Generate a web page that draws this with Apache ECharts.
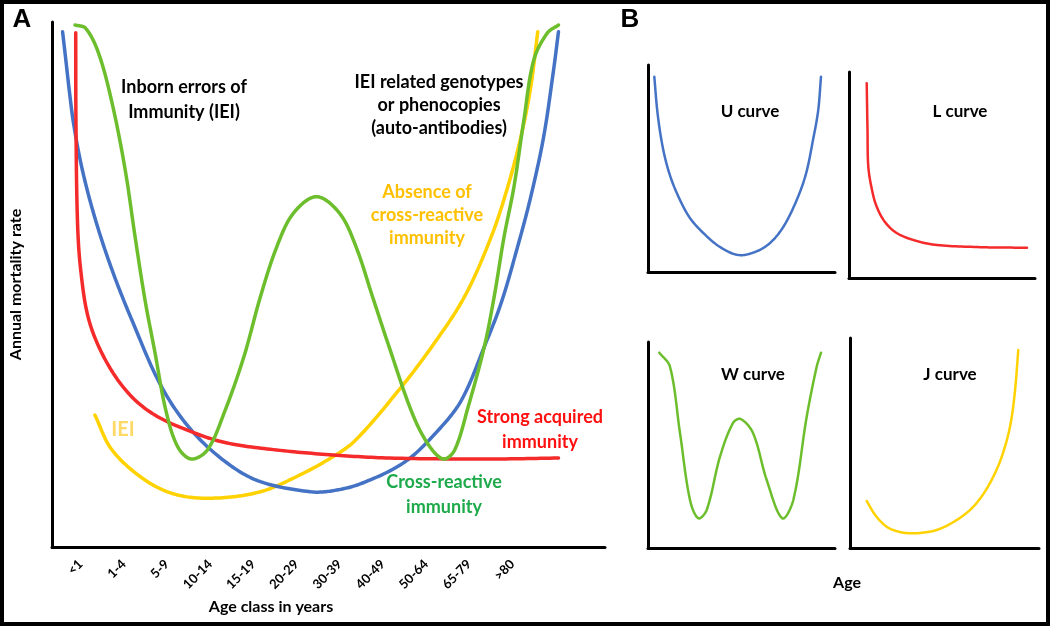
<!DOCTYPE html>
<html>
<head>
<meta charset="utf-8">
<script src="https://cdn.jsdelivr.net/npm/echarts@6/dist/echarts.min.js"></script>
<style>html,body{margin:0;padding:0;background:#fff;}#c{width:1050px;height:626px;}</style>
</head>
<body>
<div id="c"></div>
<script>
// ---- Data (schematic values, 0-100 units) ----
const ageClasses = ['<1','1-4','5-9','10-14','15-19','20-29','30-39','40-49','50-64','65-79','>80'];

// Panel A curves: [x position along age, annual mortality rate]
const uCurveA = [[1.91,98.16],[2.50,92.77],[3.22,86.10],[3.94,80.39],[5.49,71.81],[7.87,62.29],[10.86,52.77],[14.44,43.24],[19.80,30.54],[25.17,22.29],[31.66,16.00],[37.69,12.44],[46.64,10.53],[50.81,10.72],[56.17,12.19],[63.86,16.25],[69.89,22.29],[74.06,28.00],[78.18,38.16],[81.22,46.48],[84.20,57.21],[86.58,66.73],[88.91,78.16],[90.70,90.87],[91.59,98.16]];
const lCurveA = [[4.29,97.97],[4.33,81.34],[4.60,62.29],[5.19,52.77],[6.67,43.24],[9.66,35.62],[13.83,29.28],[18.60,25.14],[25.76,21.72],[31.66,19.81],[40.61,18.48],[50.81,17.53],[60.95,16.95],[78.84,16.76],[91.59,16.95]];
const wCurveA = [[4.17,99.43],[6.08,98.81],[8.41,94.10],[10.86,84.58],[13.24,71.81],[15.03,59.05],[16.82,47.05],[18.60,37.15],[20.57,26.10],[22.72,19.11],[25.17,16.76],[28.09,18.48],[31.13,25.53],[34.70,36.25],[37.69,47.68],[40.66,57.21],[43.65,63.57],[47.82,66.73],[52.00,63.57],[54.97,57.21],[57.96,47.68],[60.95,38.16],[65.12,25.53],[68.10,19.43],[70.79,16.76],[72.81,18.48],[75.26,26.72],[78.18,38.16],[79.96,47.68],[81.75,59.10],[83.54,68.63],[85.33,81.34],[87.12,92.76],[89.57,97.90],[91.59,99.43]];
const jCurveA = [[7.75,25.15],[10.86,18.48],[16.82,12.76],[22.72,9.91],[29.87,9.33],[37.69,10.53],[44.19,13.39],[50.81,17.20],[54.92,20.38],[62.74,29.91],[68.69,38.16],[74.60,47.68],[79.43,59.10],[82.42,68.63],[84.80,78.16],[86.58,87.68],[87.84,98.16]];

// Panel B mini curves
const uCurveB = [[3.37,94.35],[5.2,76.0],[8.18,58.94],[12.0,46.0],[17.11,34.78],[22.5,26.0],[29.57,18.84],[38.5,12.08],[48.29,8.21],[57.2,9.66],[65.24,14.01],[72.5,22.0],[79.52,34.78],[84.5,47.5],[88.24,63.77],[91.0,78.0],[92.51,94.35]];
const lCurveB = [[9.52,94.51],[9.95,71.84],[10.38,54.03],[12.37,42.72],[14.89,34.61],[19.35,27.18],[25.65,21.84],[35.48,18.20],[47.15,16.02],[74.03,14.90],[95.70,14.71]];
const wCurveB = [[6.04,94.81],[11.76,88.01],[17.11,55.83],[22.46,23.30],[26.90,14.42],[31.39,18.45],[38.50,44.32],[45.45,60.68],[49.57,62.62],[56.15,55.83],[63.48,33.01],[71.82,14.42],[77.70,23.30],[84.87,63.74],[90.21,88.01],[92.51,94.81]];
const jCurveB = [[8.84,22.38],[13.5,15.5],[19.42,10.14],[25.5,7.8],[31.75,7.00],[38.5,7.3],[45.87,8.57],[55.0,12.5],[63.49,18.10],[70.0,25.0],[75.82,33.95],[80.5,44.0],[84.66,57.76],[87.2,74.0],[89.05,94.29]];

// ---- Styles ----
const BLUE = '#4472C4', RED = '#F52A2A', GREEN = '#6DBE2D', YELLOW = '#FFD200';
const FONT = 'Lato, "Open Sans", sans-serif';

function hiddenAxis(i){ return {type:'value', gridIndex:i, min:0, max:100, show:false}; }
function framedX(i){ return {type:'value', gridIndex:i, min:0, max:100,
  axisLine:{show:true, onZero:false, lineStyle:{color:'#000', width:3}}, axisTick:{show:false}, axisLabel:{show:false}, splitLine:{show:false}}; }
function framedY(i, extra){ return Object.assign({type:'value', gridIndex:i, min:0, max:100,
  axisLine:{show:true, onZero:false, lineStyle:{color:'#000', width:3}}, axisTick:{show:false}, axisLabel:{show:false}, splitLine:{show:false}}, extra||{}); }

// Catmull-Rom style curve through the data points (converted with the axes' own scales via api.coord)
function smoothPts(p, s){
  const out = [], n = p.length, STEPS = 16;
  const ctrl = p.map((pt, i) => {
    const a = p[Math.max(i-1,0)], b = p[Math.min(i+1,n-1)];
    const vx = b[0]-a[0], vy = b[1]-a[1];
    const d0 = Math.hypot(pt[0]-a[0], pt[1]-a[1]), d1 = Math.hypot(b[0]-pt[0], b[1]-pt[1]);
    const t = d0 + d1 || 1;
    return {inX: pt[0]-vx*s*d0/t, inY: pt[1]-vy*s*d0/t, outX: pt[0]+vx*s*d1/t, outY: pt[1]+vy*s*d1/t};
  });
  out.push(p[0]);
  for (let i=0;i<n-1;i++){
    const P0=p[i], P3=p[i+1], c1=[ctrl[i].outX, ctrl[i].outY], c2=[ctrl[i+1].inX, ctrl[i+1].inY];
    for (let k=1;k<=STEPS;k++){
      const t=k/STEPS, u=1-t;
      out.push([u*u*u*P0[0]+3*u*u*t*c1[0]+3*u*t*t*c2[0]+t*t*t*P3[0],
                u*u*u*P0[1]+3*u*u*t*c1[1]+3*u*t*t*c2[1]+t*t*t*P3[1]]);
    }
  }
  return out;
}
function curve(data, color, gi, w){
  return {type:'custom', xAxisIndex:gi, yAxisIndex:gi, data:data, silent:true, clip:false,
    renderItem:function(params, api){
      if (params.dataIndex !== 0) return null;
      const pts = data.map(d => api.coord(d));
      return {type:'polyline', shape:{points:smoothPts(pts, 0.34)},
        style:{stroke:color, lineWidth:w, fill:null, lineJoin:'round', lineCap:'round'}};
    }};
}
function txt(x, y, text, color, size, lh){
  return {type:'text', x:x, y:y, silent:true, style:{text:text, fill:color, font:'bold '+size+'px '+FONT,
    align:'center', verticalAlign:'middle', textAlign:'center', textVerticalAlign:'middle', lineHeight:lh||size+6}};
}

const chart = echarts.init(document.getElementById('c'), null, {renderer:'canvas'});
chart.setOption({
  animation:false,
  backgroundColor:'#fff',
  grid:[
    {left:46, top:22, width:559, height:525},     // A main
    {left:59, top:546, width:475, height:1},      // A age labels
    {left:648, top:65, width:187, height:207},    // U
    {left:849, top:72, width:186, height:206},    // L
    {left:648, top:342, width:187, height:206},   // W
    {left:850, top:338, width:189, height:210}    // J
  ],
  xAxis:[
    framedX(0),
    {type:'category', gridIndex:1, data:ageClasses, boundaryGap:true,
      axisLine:{show:false}, axisTick:{show:false}, splitLine:{show:false},
      axisLabel:{interval:0, rotate:45, margin:15, color:'#000', fontWeight:'bold', fontSize:13, fontFamily:FONT}},
    framedX(2), framedX(3), framedX(4), framedX(5)
  ],
  yAxis:[
    framedY(0, {name:'Annual mortality rate', nameLocation:'middle', nameGap:28,
      nameTextStyle:{color:'#000', fontWeight:'bold', fontSize:16, fontFamily:FONT}}),
    hiddenAxis(1),
    framedY(2), framedY(3), framedY(4), framedY(5)
  ],
  series:[
    curve(jCurveA, YELLOW, 0, 3.5),
    curve(uCurveA, BLUE, 0, 3.5),
    curve(lCurveA, RED, 0, 3.5),
    curve(wCurveA, GREEN, 0, 3.5),
    curve(uCurveB, BLUE, 2, 2.5),
    curve(lCurveB, RED, 3, 2.5),
    curve(wCurveB, GREEN, 4, 2.5),
    curve(jCurveB, YELLOW, 5, 2.5)
  ],
  graphic:{elements:[
    {type:'rect', silent:true, shape:{x:2, y:2, width:1046, height:622}, style:{fill:null, stroke:'#000', lineWidth:4}},
    {type:'text', x:22, y:20, silent:true, style:{text:'A', fill:'#000', font:'bold 26px "Liberation Sans", Arial, sans-serif', align:'center', verticalAlign:'middle', textAlign:'center', textVerticalAlign:'middle'}},
    {type:'text', x:630, y:20, silent:true, style:{text:'B', fill:'#000', font:'bold 26px "Liberation Sans", Arial, sans-serif', align:'center', verticalAlign:'middle', textAlign:'center', textVerticalAlign:'middle'}},
    txt(184, 100, 'Inborn errors of\nImmunity (IEI)', '#000', 18, 25),
    txt(439, 105, 'IEI related genotypes\nor phenocopies\n(auto-antibodies)', '#000', 18, 23),
    txt(427, 215, 'Absence of\ncross-reactive\nimmunity', '#FFC000', 18, 23),
    txt(540, 430, 'Strong acquired\nimmunity', '#FF1010', 18, 25),
    txt(444, 495, 'Cross-reactive\nimmunity', '#1DAA4A', 18, 25),
    txt(123, 430, 'IEI', '#FFD966', 20),
    txt(271, 607, 'Age class in years', '#000', 16),
    txt(750, 112, 'U curve', '#000', 17),
    txt(960, 112, 'L curve', '#000', 17),
    txt(753, 375, 'W curve', '#000', 17),
    txt(950, 375, 'J curve', '#000', 17),
    txt(847, 583, 'Age', '#000', 16)
  ]}
});
</script>
</body>
</html>
